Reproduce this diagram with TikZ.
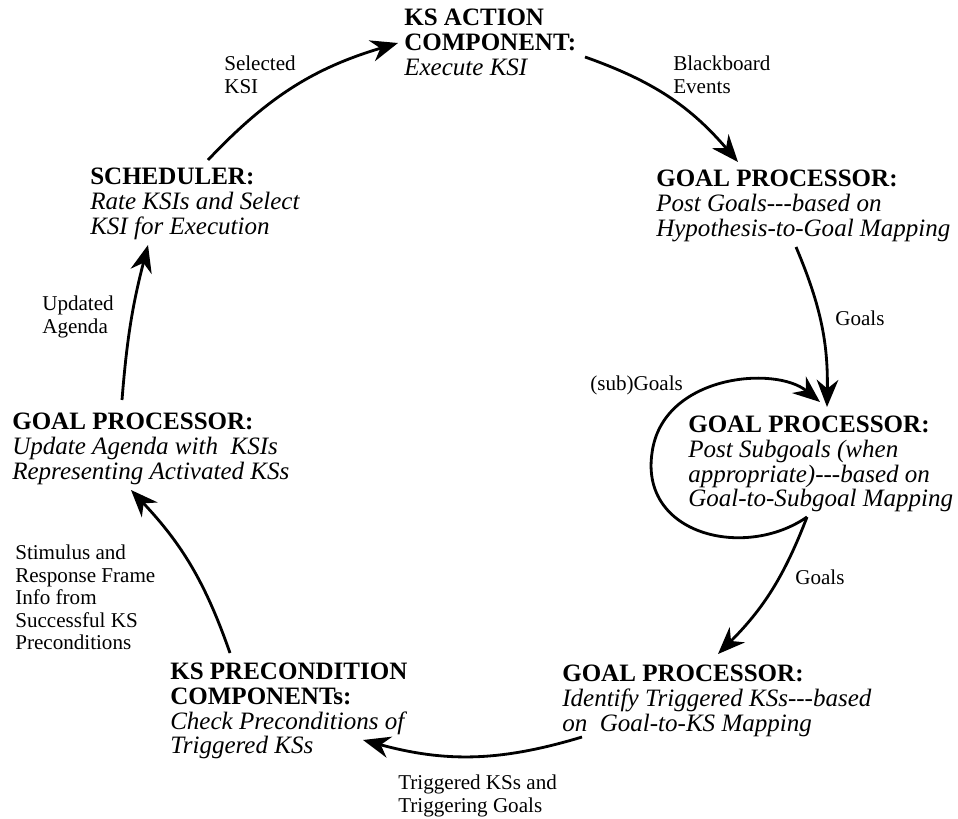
\documentclass[tikz,border=0pt]{standalone}
\usepackage{fontspec}
\setmainfont{Liberation Serif}
\usetikzlibrary{arrows.meta}

\tikzset{
  proc/.style={anchor=north west, inner sep=0pt, align=left,
    font=\fontsize{17.8}{17.5}\selectfont},
  lbl/.style={anchor=north west, inner sep=0pt, align=left,
    font=\fontsize{15}{16}\selectfont},
  flow/.style={line width=2pt, -{Stealth[length=6.8mm, width=5.4mm, inset=2.2mm]}},
}
\newcommand{\hhh}{-{}-{}-}

\begin{document}
\begin{tikzpicture}[x=0.025cm, y=-0.025cm]
    \useasboundingbox (0,0) rectangle (958,819);

    % Processing steps round the cycle
    \node[proc] (ksact) at (404,9) {\textbf{KS ACTION}\\\textbf{COMPONENT:}\\\textit{Execute KSI}};
    \node[proc] (gpost) at (656,170) {\textbf{GOAL PROCESSOR:}\\\textit{Post Goals\hhh based on}\\\textit{Hypothesis-to-Goal Mapping}};
    \node[proc] (gsub) at (688,416) {\textbf{GOAL PROCESSOR:}\\\textit{Post Subgoals (when}\\\textit{appropriate)\hhh based on}\\\textit{Goal-to-Subgoal Mapping}};
    \node[proc] (gtrig) at (562,665) {\textbf{GOAL PROCESSOR:}\\\textit{Identify Triggered KSs\hhh based}\\\textit{on\ \ Goal-to-KS Mapping}};
    \node[proc] (kspre) at (170,663) {\textbf{KS PRECONDITION}\\\textbf{COMPONENTs:}\\\textit{Check Preconditions of}\\\textit{Triggered KSs}};
    \node[proc] (gagenda) at (12,413) {\textbf{GOAL PROCESSOR:}\\\textit{Update Agenda with\ \ KSIs}\\\textit{Representing Activated KSs}};
    \node[proc] (sched) at (90,168) {\textbf{SCHEDULER:}\\\textit{Rate KSIs and Select}\\\textit{KSI for Execution}};

    % Labels on the connectors
    \node[lbl] (lselected) at (224,56) {Selected\\KSI};
    \node[lbl] (lblackboard) at (673,56) {Blackboard\\Events};
    \node[lbl] (lgoalsa) at (835,311) {Goals};
    \node[lbl] (lsubgoals) at (590,376) {(sub)Goals};
    \node[lbl] (lgoalsb) at (795,570) {Goals};
    \node[lbl] (ltriggered) at (398,775) {Triggered KSs and\\Triggering Goals};
    \node[lbl] (lstimulus) at (15,545) {Stimulus and\\Response Frame\\Info from\\Successful KS\\Preconditions};
    \node[lbl] (lupdated) at (42,296) {Updated\\Agenda};

    % Connectors
    \draw[flow] ([shift={(118,-8)}]sched.north west) to[bend left=15] ([shift={(-6,34)}]ksact.north west);
    \draw[flow] ([shift={(181,48)}]ksact.north west) to[bend left=15] ([shift={(82,-8)}]gpost.north west);
    \draw[flow] ([shift={(140,77)}]gpost.north west) to[bend left=12] ([shift={(139,-9)}]gsub.north west);
    \coordinate (loopw) at (652,453);
    \draw[flow] ([shift={(119,101)}]gsub.north west) .. controls (745,560) and (640,535) .. (loopw)
        .. controls (662,375) and (775,365) .. ([shift={(132,-14)}]gsub.north west);
    \draw[flow] ([shift={(119,101)}]gsub.north west) to[bend left=12] ([shift={(156,-11)}]gtrig.north west);
    \draw[flow] ([shift={(20,72)}]gtrig.north west) to[bend left=16] ([shift={(193,77)}]kspre.north west);
    \draw[flow] ([shift={(60,-10)}]kspre.north west) to[bend right=12] ([shift={(119,77)}]gagenda.north west);
    \draw[flow] ([shift={(110,-13)}]gagenda.north west) to[bend left=5] ([shift={(58,77)}]sched.north west);
\end{tikzpicture}
\end{document}
